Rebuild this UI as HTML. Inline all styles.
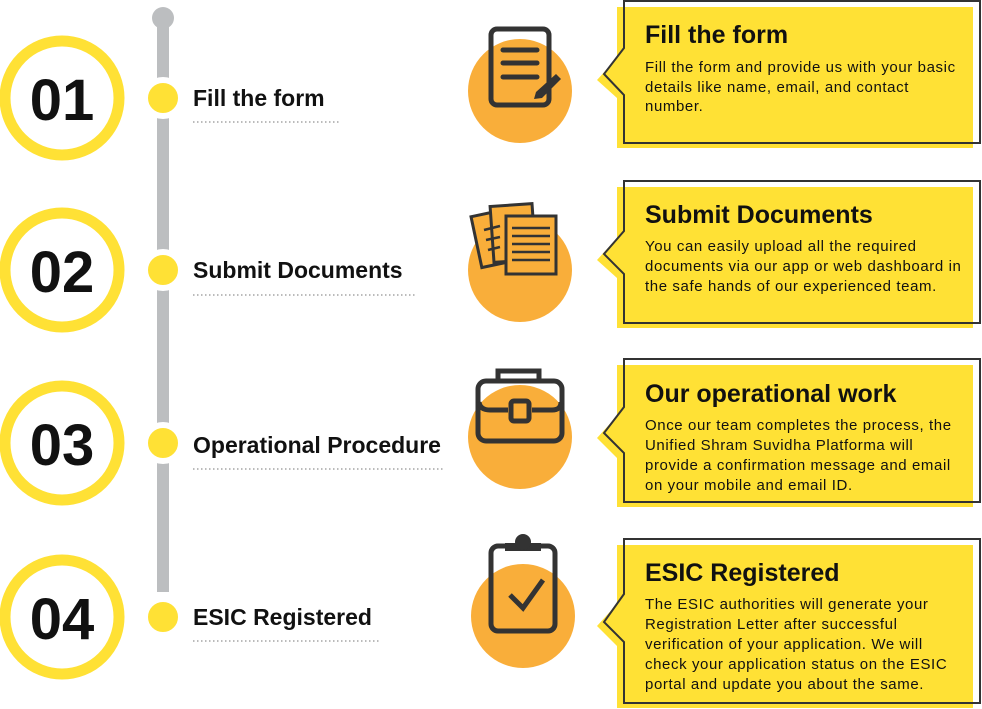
<!DOCTYPE html>
<html><head><meta charset="utf-8"><style>
html,body{margin:0;padding:0;background:#fff;}
svg{display:block;}
.num{font:bold 58px "Liberation Sans",sans-serif;fill:#111;}
.lab{font:bold 23px "Liberation Sans",sans-serif;fill:#111;}
.tt{font:bold 25px "Liberation Sans",sans-serif;fill:#111;}
.bd{font:15px "Liberation Sans",sans-serif;fill:#111;letter-spacing:0.6px;}
</style></head><body>
<svg width="982" height="709" viewBox="0 0 982 709" xmlns="http://www.w3.org/2000/svg">
<rect x="157" y="18" width="12" height="574" fill="#bcbec0"/>
<circle cx="163" cy="18" r="11" fill="#bcbec0"/>
<g fill="#ffe135" stroke="#fff" stroke-width="6">
<circle cx="163" cy="98" r="18"/><circle cx="163" cy="270" r="18"/><circle cx="163" cy="443" r="18"/><circle cx="163" cy="617" r="18"/>
</g>
<g fill="none" stroke="#ffe135" stroke-width="11">
<circle cx="62" cy="98" r="57"/><circle cx="62" cy="270" r="57"/><circle cx="62" cy="443" r="57"/><circle cx="62" cy="617" r="57"/>
</g>
<text class="num" x="62" y="120" text-anchor="middle">01</text>
<text class="num" x="62" y="292" text-anchor="middle">02</text>
<text class="num" x="62" y="465" text-anchor="middle">03</text>
<text class="num" x="62" y="639" text-anchor="middle">04</text>
<text class="lab" x="193" y="106">Fill the form</text>
<text class="lab" x="193" y="278">Submit Documents</text>
<text class="lab" x="193" y="453">Operational Procedure</text>
<text class="lab" x="193" y="625">ESIC Registered</text>
<g stroke="#777" stroke-width="1" stroke-dasharray="1.5,2.5">
<line x1="193" y1="122" x2="340" y2="122"/><line x1="193" y1="295" x2="415" y2="295"/>
<line x1="193" y1="469" x2="443" y2="469"/><line x1="193" y1="641" x2="380" y2="641"/>
</g>
<g fill="#f9ae3a">
<circle cx="520" cy="91" r="52"/><circle cx="520" cy="270" r="52"/><circle cx="520" cy="437" r="52"/><circle cx="523" cy="616" r="52"/>
</g>
<g fill="none" stroke="#333" stroke-width="5" stroke-linecap="round">
<rect x="491" y="29" width="58" height="76" rx="6"/>
<line x1="503" y1="50" x2="537" y2="50"/><line x1="503" y1="63" x2="537" y2="63"/><line x1="503" y1="77" x2="537" y2="77"/>
</g>
<path d="M556 74 L561 79 L542 98 L534 99 L536 92 Z" fill="#333"/>
<g stroke="#333" stroke-width="3" fill="#f9ae3a">
<rect x="476" y="212" width="40" height="52" transform="rotate(-12 496 238)"/>
<rect x="492" y="205" width="42" height="56" transform="rotate(-4 513 233)"/>
<rect x="506" y="216" width="50" height="58"/>
</g>
<g stroke="#333" stroke-width="2.5">
<line x1="512" y1="228" x2="550" y2="228"/><line x1="512" y1="236" x2="550" y2="236"/><line x1="512" y1="244" x2="550" y2="244"/>
<line x1="512" y1="252" x2="550" y2="252"/><line x1="512" y1="260" x2="550" y2="260"/>
<line x1="484" y1="230" x2="500" y2="226"/><line x1="486" y1="240" x2="500" y2="237"/><line x1="488" y1="250" x2="500" y2="247"/>
</g>
<g fill="none" stroke="#333" stroke-width="5">
<rect x="478" y="381" width="84" height="60" rx="8"/>
<path d="M498 380 V371 H539 V380"/>
<path d="M479 402 Q480 410 490 410 H508 M532 410 H552 Q561 410 561 402"/>
<rect x="511" y="401" width="18" height="20" rx="3"/>
</g>
<g fill="none" stroke="#333" stroke-width="5">
<rect x="491" y="546" width="64" height="85" rx="7"/>
<polyline points="510,595 523,608 543,580"/>
</g>
<rect x="505" y="543" width="36" height="8" fill="#333"/>
<circle cx="523" cy="542" r="8" fill="#333"/>
<g fill="#ffe135">
<path d="M617 7 H973 V148 H617 V98 L597 80 L617 58 Z"/>
<path d="M617 187 H973 V328 H617 V278 L597 260 L617 238 Z"/>
<path d="M617 365 H973 V507 H617 V458 L597 438 L617 416 Z"/>
<path d="M617 545 H973 V708 H617 V646 L597 626 L617 604 Z"/>
</g>
<g fill="none" stroke="#333" stroke-width="2">
<path d="M624 1 H980 V143 H624 V95 L604 74 L624 48 Z"/>
<path d="M624 181 H980 V323 H624 V274 L604 254 L624 231 Z"/>
<path d="M624 359 H980 V502 H624 V453 L604 433 L624 407 Z"/>
<path d="M624 539 H980 V703 H624 V642 L604 622 L624 594 Z"/>
</g>
<text class="tt" x="645" y="43">Fill the form</text>
<text class="bd" x="645" y="72">Fill the form and provide us with your basic</text>
<text class="bd" x="645" y="92">details like name, email, and contact</text>
<text class="bd" x="645" y="111">number.</text>
<text class="tt" x="645" y="223">Submit Documents</text>
<text class="bd" x="645" y="251">You can easily upload all the required</text>
<text class="bd" x="645" y="271">documents via our app or web dashboard in</text>
<text class="bd" x="645" y="291">the safe hands of our experienced team.</text>
<text class="tt" x="645" y="402">Our operational work</text>
<text class="bd" x="645" y="430">Once our team completes the process, the</text>
<text class="bd" x="645" y="450">Unified Shram Suvidha Platforma will</text>
<text class="bd" x="645" y="470">provide a confirmation message and email</text>
<text class="bd" x="645" y="490">on your mobile and email ID.</text>
<text class="tt" x="645" y="581">ESIC Registered</text>
<text class="bd" x="645" y="609">The ESIC authorities will generate your</text>
<text class="bd" x="645" y="629">Registration Letter after successful</text>
<text class="bd" x="645" y="649">verification of your application. We will</text>
<text class="bd" x="645" y="669">check your application status on the ESIC</text>
<text class="bd" x="645" y="689">portal and update you about the same.</text>
</svg>
</body></html>
